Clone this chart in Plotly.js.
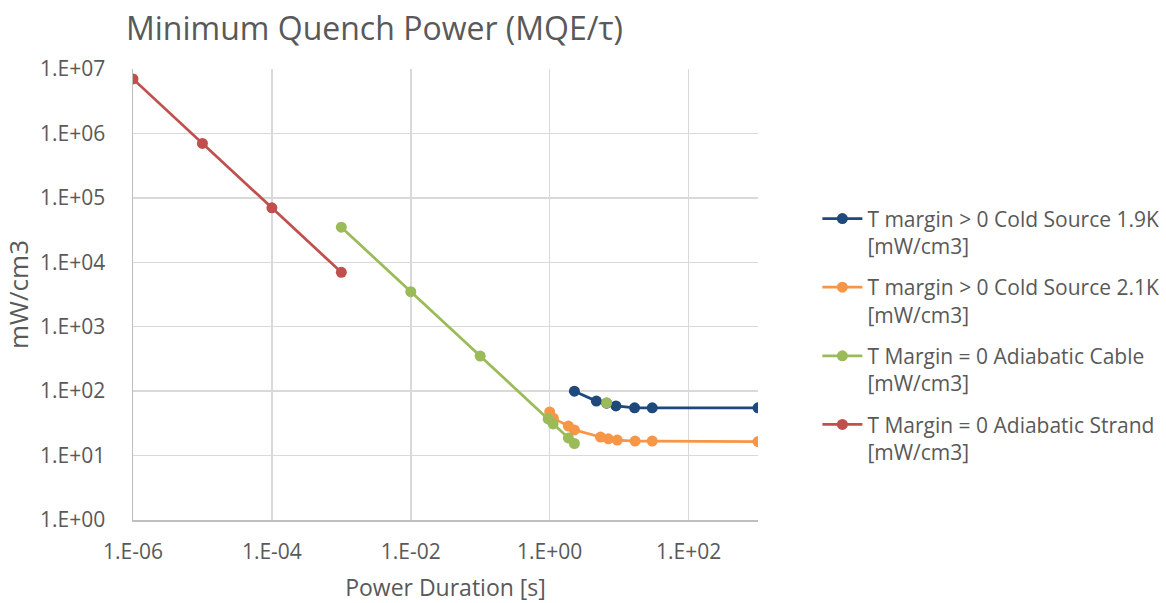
<!DOCTYPE html>
<html>
<head>
<meta charset="utf-8">
<script src="https://cdn.plot.ly/plotly-3.0.1.min.js"></script>
<style>html,body{margin:0;padding:0;background:#fff;}#chart{width:1166px;height:603px;}</style>
</head>
<body>
<div id="chart"></div>
<script>
// ---- data ----
const seriesNames = [
  "T margin &gt; 0 Cold Source 1.9K<br>[mW/cm3]",
  "T margin &gt; 0 Cold Source 2.1K<br>[mW/cm3]",
  "T Margin = 0 Adiabatic Cable<br>[mW/cm3]",
  "T Margin = 0 Adiabatic Strand<br>[mW/cm3]"
];
const cold19_x = [2.27, 4.7, 6.6, 9.0, 16.7, 30, 1000];
const cold19_y = [100, 70, 65, 59, 55, 55, 55];
const cold21_x = [1.0, 1.13, 1.86, 2.27, 5.4, 7.0, 9.4, 17, 30, 1000];
const cold21_y = [47.5, 38, 28.7, 25, 19.4, 18.2, 17.4, 16.8, 16.8, 16.5];
const cable_x = [0.001, 0.01, 0.1, 0.95, 1.12, 1.86, 2.27, 4.0, 6.6];
const cable_y = [35000, 3500, 350, 37, 31, 18.8, 15.4, null, 66];
const strand_x = [1e-6, 1e-5, 1e-4, 1e-3];
const strand_y = [7e6, 7e5, 7e4, 7e3];
const xTickVals = [1e-6, 1e-4, 1e-2, 1, 100];
const xTickText = ["1.E-06", "1.E-04", "1.E-02", "1.E+00", "1.E+02"];
const yTickVals = [1, 10, 100, 1e3, 1e4, 1e5, 1e6, 1e7];
const yTickText = ["1.E+00", "1.E+01", "1.E+02", "1.E+03", "1.E+04", "1.E+05", "1.E+06", "1.E+07"];
const colors = ["#1F497D", "#F79646", "#9BBB59", "#C0504D"];

const FONT = "Open Sans, sans-serif";
function tr(x, y, i) {
  return {
    x: x, y: y, type: "scatter", mode: "lines+markers", name: seriesNames[i],
    line: {color: colors[i], width: 2.75},
    marker: {color: colors[i], size: 11},
    legendgroup: "g" + i,
    connectgaps: false
  };
}
const data = [
  tr(cold19_x, cold19_y, 0),
  tr(cold21_x, cold21_y, 1),
  tr(cable_x, cable_y, 2),
  tr(strand_x, strand_y, 3)
];
const layout = {
  width: 1166, height: 603,
  paper_bgcolor: "#fff", plot_bgcolor: "#fff",
  margin: {l: 133, r: 408, t: 69, b: 83, autoexpand: false},
  font: {family: FONT, color: "#595959", size: 16},
  title: {text: "Minimum Quench Power (MQE/τ)", x: 126/1166, xanchor: "left", y: 0.953, yanchor: "middle",
          font: {family: FONT, size: 32, color: "#595959"}},
  showlegend: true,
  legend: {x: 1.095, xanchor: "left", y: 0.713, yanchor: "top", valign: "top",
           font: {family: FONT, size: 21, color: "#595959"}, tracegroupgap: 11, itemwidth: 40,
           traceorder: "grouped"},
  xaxis: {
    type: "log", range: [-6, 3], tickvals: xTickVals, ticktext: xTickText,
    showgrid: true, gridcolor: "#d9d9d9", gridwidth: 1.5,
    showline: true, linecolor: "#bfbfbf", linewidth: 1.5,
    zeroline: false, ticks: "", ticklabelstandoff: 12,
    tickfont: {family: FONT, size: 21, color: "#595959"},
    title: {text: "Power Duration [s]", font: {family: FONT, size: 23, color: "#595959"}, standoff: 19}
  },
  yaxis: {
    type: "log", range: [0, 7], tickvals: yTickVals, ticktext: yTickText,
    showgrid: true, gridcolor: "#d9d9d9", gridwidth: 1.5,
    showline: true, linecolor: "#bfbfbf", linewidth: 1.5,
    zeroline: false, ticks: "", ticklabelstandoff: 22,
    tickfont: {family: FONT, size: 21, color: "#595959"},
    title: {text: "mW/cm3", font: {family: FONT, size: 26, color: "#595959"}, standoff: 8}
  }
};
Plotly.newPlot("chart", data, layout, {displayModeBar: false, staticPlot: true});
</script>
</body>
</html>
